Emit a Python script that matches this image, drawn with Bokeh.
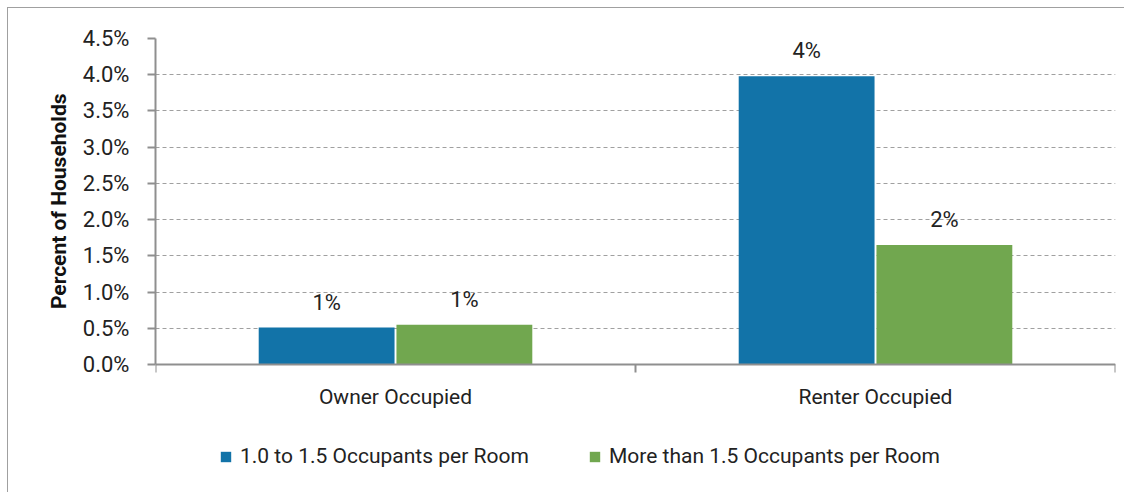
from bokeh.plotting import figure
from bokeh.models import (Range1d, FixedTicker, PrintfTickFormatter, ColumnDataSource,
                          LabelSet, Legend, LegendItem, Title)
from bokeh.embed import file_html
from bokeh.resources import INLINE
from bokeh.core.properties import value
from bokeh.transform import dodge

# ---- data ----
categories = ["Owner Occupied", "Renter Occupied"]
series_names = ["1.0 to 1.5 Occupants per Room", "More than 1.5 Occupants per Room"]
moderate = [0.51, 3.98]   # % households, 1.0 to 1.5 occupants per room
severe = [0.55, 1.65]     # % households, more than 1.5 occupants per room
y_ticks = [0.0, 0.5, 1.0, 1.5, 2.0, 2.5, 3.0, 3.5, 4.0, 4.5]
y_title = "Percent of Households"

FONT = "Roboto"
TXT = "#222222"
BLUE = "#1273a8"
GREEN = "#71a74f"
AXIS = "#8f8f8f"

centers = [i + 0.5 for i in range(len(categories))]
src = ColumnDataSource(dict(
    x=centers,
    moderate=moderate,
    severe=severe,
    lab1=[f"{round(v)}%" for v in moderate],
    lab2=[f"{round(v)}%" for v in severe],
))

# frame extends below the x axis so that the legend can sit inside it
Y_LOW = -1.78
p = figure(width=1117, height=485,
           x_range=Range1d(0, len(categories)), y_range=Range1d(Y_LOW, y_ticks[-1]),
           output_backend="svg", toolbar_location=None,
           min_border_left=147, min_border_right=10, min_border_top=30, min_border_bottom=0)
p.outline_line_color = None
p.margin = (7, 0, 0, 7)
p.styles = {"border-top": "1px solid #a0a0a0", "border-left": "1px solid #a0a0a0"}

OFF = 0.1435
W = 0.283
r1 = p.vbar(x=dodge("x", -OFF, range=p.x_range), top="moderate", width=W, source=src,
            fill_color=BLUE, line_color=None)
r2 = p.vbar(x=dodge("x", OFF, range=p.x_range), top="severe", width=W, source=src,
            fill_color=GREEN, line_color=None)

for col, lab, off in (("moderate", "lab1", -OFF), ("severe", "lab2", OFF)):
    p.add_layout(LabelSet(x=dodge("x", off, range=p.x_range), y=col, text=lab, source=src,
                          y_offset=18, text_align="center", text_baseline="alphabetic",
                          text_font=value(FONT), text_font_size="22px", text_color=TXT))

# grid
p.xgrid.visible = False
p.ygrid.ticker = FixedTicker(ticks=y_ticks)
p.ygrid.grid_line_color = "#a0a0a0"
p.ygrid.grid_line_dash = "4 3"
p.ygrid.grid_line_width = 1

# y axis
ya = p.yaxis[0]
ya.bounds = (y_ticks[0], y_ticks[-1])
ya.ticker = FixedTicker(ticks=y_ticks)
ya.formatter = PrintfTickFormatter(format="%.1f%%")
ya.axis_line_color = AXIS
ya.axis_line_width = 2
ya.major_tick_line_color = AXIS
ya.major_tick_line_width = 2
ya.major_tick_out = 8
ya.major_tick_in = 0
ya.minor_tick_line_color = None
ya.major_label_standoff = 18
ya.major_label_text_font = FONT
ya.major_label_text_font_size = "22px"
ya.major_label_text_color = TXT

# y axis title, aligned with the top part of the frame (the axis bounds)
p.add_layout(Title(text=y_title, align="right", offset=55, standoff=18,
                   text_font=FONT, text_font_size="21px", text_font_style="bold",
                   text_color="#111111"), "left")

# x axis, drawn at y = 0 inside the frame
xa = p.xaxis[0]
xa.fixed_location = 0
xa.ticker = FixedTicker(ticks=centers, minor_ticks=list(range(len(categories) + 1)))
xa.major_label_overrides = {c: cat for c, cat in zip(centers, categories)}
xa.axis_line_color = AXIS
xa.axis_line_width = 2
xa.major_tick_line_color = None
xa.major_tick_out = 0
xa.major_tick_in = 0
xa.minor_tick_line_color = AXIS
xa.minor_tick_line_width = 2
xa.minor_tick_out = 8
xa.minor_tick_in = 0
xa.major_label_standoff = 12
xa.major_label_text_font = FONT
xa.major_label_text_font_size = "21px"
xa.major_label_text_color = TXT

legend = Legend(items=[LegendItem(label=series_names[0], renderers=[r1]),
                       LegendItem(label=series_names[1], renderers=[r2])],
                orientation="horizontal", location=(64, 25),
                glyph_width=13, glyph_height=13, label_standoff=8,
                label_width=348, spacing=0, padding=0, margin=0,
                border_line_color=None, background_fill_alpha=0,
                label_text_font=FONT, label_text_font_size="21px", label_text_color=TXT)
p.add_layout(legend, "center")

open("out.html", "w").write(file_html(p, INLINE))
